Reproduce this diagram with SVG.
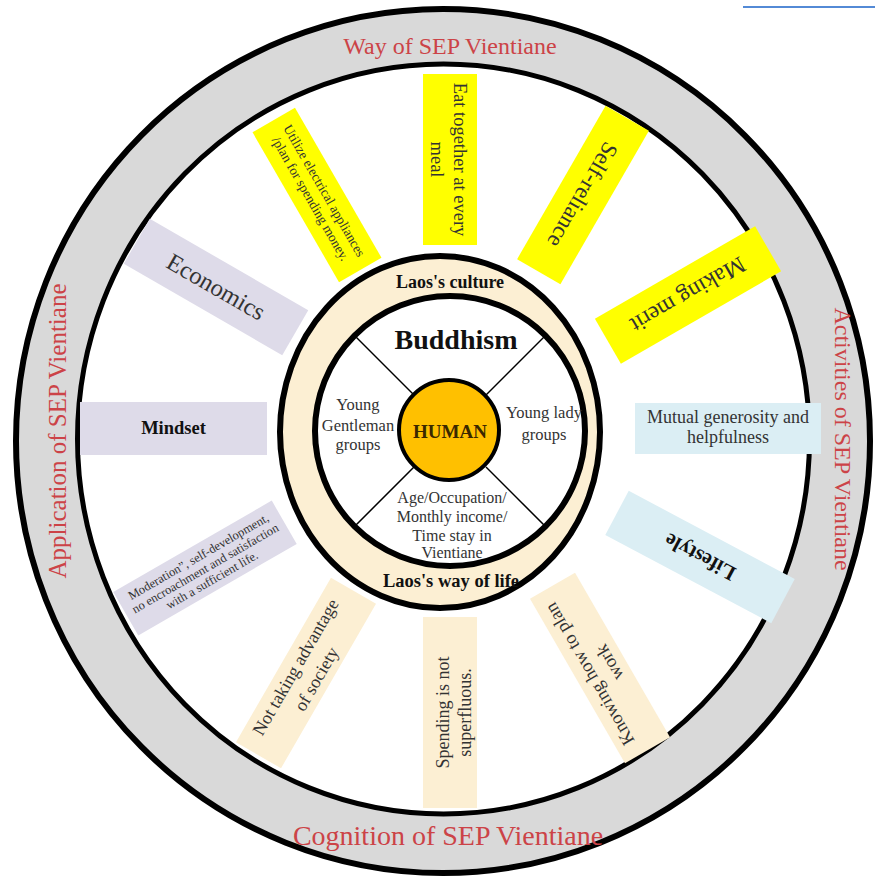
<svg xmlns="http://www.w3.org/2000/svg" width="875" height="877" viewBox="0 0 875 877">
<style>
.s{font-family:"Liberation Serif","Times New Roman",serif;}
.red{fill:#cc4347;font-family:"Liberation Serif","Times New Roman",serif;text-anchor:middle;}
.y{fill:#ffff00}.b{fill:#dbeef4}.l{fill:#dedbe9}.c{fill:#fcefd3}
.t{fill:#333;text-anchor:middle;font-family:"Liberation Serif","Times New Roman",serif;}
.bd{font-weight:bold;fill:#111;}
.ln{stroke:#000;stroke-width:1.5;fill:none}
</style>
<rect width="875" height="877" fill="#fff"/>
<g id="link">
<line x1="743" y1="7" x2="875" y2="7" stroke="#1a63c9" stroke-width="1.5"/>
</g>
<g id="rim">
<ellipse cx="443" cy="441" rx="427" ry="432" fill="#d9d9d9" stroke="#000" stroke-width="6"/>
<ellipse cx="443.5" cy="439" rx="366" ry="375" fill="#fff" stroke="#000" stroke-width="5"/>
<text class="red" x="450" y="54" font-size="24">Way of SEP Vientiane</text>
<text class="red" x="448" y="845" font-size="28">Cognition of SEP Vientiane</text>
<text class="red" transform="translate(66,431) rotate(-90)" x="0" y="0" font-size="25">Application of SEP Vientiane</text>
<text class="red" transform="translate(835,439) rotate(90)" x="0" y="0" font-size="24">Activities of SEP Vientiane</text>
</g>
<g id="spoke-eat" transform="translate(450,159.5) rotate(90)">
<rect class="y" x="-85.5" y="-27" width="171" height="54"/>
<text class="t" font-size="18.5"><tspan x="0" y="-4">Eat together at every</tspan><tspan x="0" y="19">meal</tspan></text>
</g>
<g id="spoke-self" transform="translate(583,195) rotate(120)">
<rect class="y" x="-88.5" y="-25" width="177" height="50"/>
<text class="t" font-size="23" x="0" y="8">Self-reliance</text>
</g>
<g id="spoke-merit" transform="translate(688,295) rotate(150)">
<rect class="y" x="-92.5" y="-26" width="185" height="52"/>
<text class="t" font-size="23.5" x="0" y="8">Making merit</text>
</g>
<g id="spoke-mutual" transform="translate(728,428.5)">
<rect class="b" x="-93" y="-25.5" width="186" height="51"/>
<text class="t" font-size="18"><tspan x="0" y="-6">Mutual generosity and</tspan><tspan x="0" y="14.5">helpfulness</tspan></text>
</g>
<g id="spoke-lifestyle" transform="translate(700,557) rotate(208)">
<rect class="b" x="-94" y="-25" width="188" height="50"/>
<text class="t bd" font-size="21" x="0" y="7">Lifestyle</text>
</g>
<g id="spoke-plan" transform="translate(600,668) rotate(240)">
<rect class="c" x="-95" y="-26" width="190" height="52"/>
<text class="t" font-size="18.5"><tspan x="0" y="-6">Knowing how to plan</tspan><tspan x="0" y="17">work</tspan></text>
</g>
<g id="spoke-spending" transform="translate(450,712.5) rotate(-90)">
<rect class="c" x="-95.5" y="-27" width="191" height="54"/>
<text class="t" font-size="18"><tspan x="0" y="-1">Spending is not</tspan><tspan x="0" y="21">superfluous.</tspan></text>
</g>
<g id="spoke-society" transform="translate(306,673) rotate(-60)">
<rect class="c" x="-95" y="-26" width="190" height="52"/>
<text class="t" font-size="18"><tspan x="0" y="-6">Not taking advantage</tspan><tspan x="0" y="18">of society</tspan></text>
</g>
<g id="spoke-moderation" transform="translate(205,568) rotate(-30)">
<rect class="l" x="-91.5" y="-25" width="183" height="50"/>
<text class="t" font-size="12.5"><tspan x="0" y="-9">Moderation”, self-development,</tspan><tspan x="0" y="4.5">no encroachment and satisfaction</tspan><tspan x="0" y="18">with a sufficient life.</tspan></text>
</g>
<g id="spoke-mindset" transform="translate(173.5,428.5)">
<rect class="l" x="-93.5" y="-26.5" width="187" height="53"/>
<text class="t bd" font-size="18.5" x="0" y="5.5">Mindset</text>
</g>
<g id="spoke-economics" transform="translate(216,287) rotate(30)">
<rect class="l" x="-91.5" y="-26" width="183" height="52"/>
<text class="t" font-size="24.5" x="0" y="8">Economics</text>
</g>
<g id="spoke-utilize" transform="translate(317,195) rotate(60)">
<rect class="y" x="-86.5" y="-24.5" width="173" height="49"/>
<text class="t" font-size="13.5"><tspan x="0" y="-4">Utilize electrical appliances</tspan><tspan x="0" y="12">/plan for spending money.</tspan></text>
</g>
<g id="culture-ring">
<ellipse cx="440" cy="432" rx="160" ry="176" fill="#fcefd3" stroke="#000" stroke-width="6"/>
<text class="t bd" font-size="18" x="450" y="288">Laos's culture</text>
<text class="t bd" font-size="18.5" x="451" y="587">Laos's way of life</text>
</g>
<g id="core">
<circle cx="450" cy="431" r="135" fill="#fff" stroke="#000" stroke-width="6"/>
</g>
<g id="connectors">
<line class="ln" x1="355" y1="336" x2="414" y2="395"/>
<line class="ln" x1="545" y1="336" x2="486" y2="395"/>
<line class="ln" x1="355" y1="526" x2="414" y2="467"/>
<line class="ln" x1="545" y1="526" x2="486" y2="467"/>
</g>
<g id="buddhism"><text class="t bd" font-size="28" x="456" y="349">Buddhism</text></g>
<g id="gentleman"><text class="t" font-size="16.5"><tspan x="358" y="410">Young</tspan><tspan x="358" y="431">Gentleman</tspan><tspan x="358" y="450">groups</tspan></text></g>
<g id="lady"><text class="t" font-size="16.5"><tspan x="544" y="418">Young lady</tspan><tspan x="544" y="440">groups</tspan></text></g>
<g id="demographics"><text class="t" font-size="16"><tspan x="452" y="503">Age/Occupation/</tspan><tspan x="452" y="522">Monthly income/</tspan><tspan x="452" y="541">Time stay in</tspan><tspan x="452" y="558">Vientiane</tspan></text></g>
<g id="human">
<circle cx="449" cy="430" r="50" fill="#ffc000" stroke="#000" stroke-width="4"/>
<text class="t bd" font-size="19" x="450" y="438" style="fill:#3a2800">HUMAN</text>
</g>
</svg>
